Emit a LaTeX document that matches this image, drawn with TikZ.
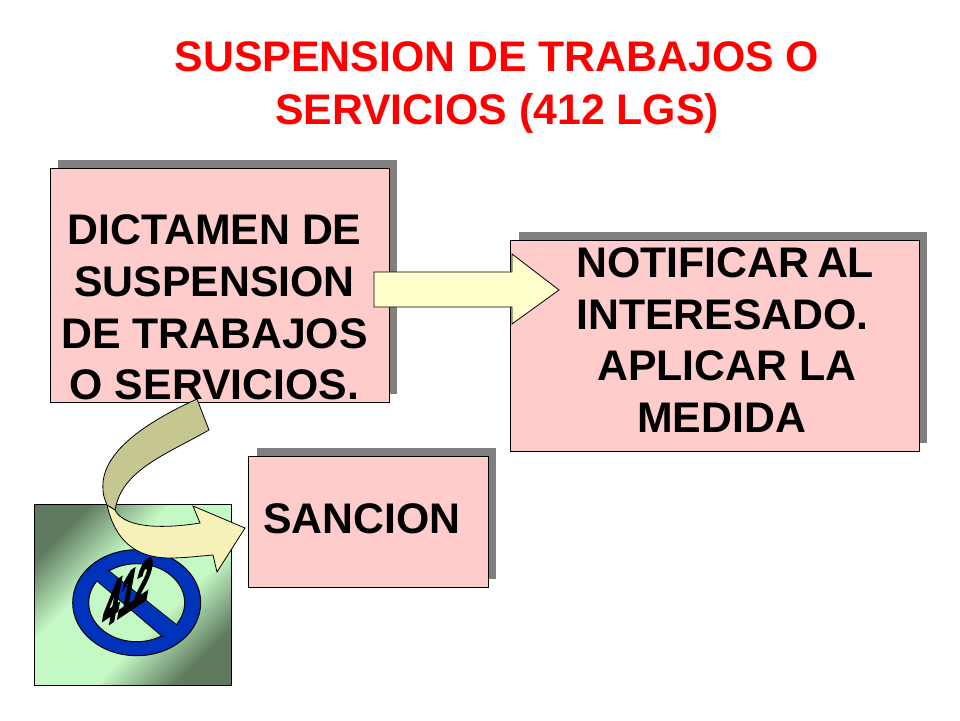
\documentclass[tikz,border=0pt]{standalone}
\usepackage{fontspec}
\setmainfont{Liberation Sans}
\newfontfamily\heavydigits[FakeBold=6]{Liberation Sans Bold}
\usetikzlibrary{shadings}
\definecolor{boxpink}{HTML}{FFCCCC}
\definecolor{shadowgray}{HTML}{808080}
\definecolor{creamy}{HTML}{FFFFCC}
\definecolor{creamb}{HTML}{F7F2B8}
\definecolor{olive}{HTML}{C6C690}
\definecolor{ringblue}{HTML}{0033BB}
\definecolor{titlered}{HTML}{FF0000}
\definecolor{gdark}{HTML}{5F7A5F}
\definecolor{glight}{HTML}{C4F8C4}
\pgfdeclareverticalshading{squareglow}{100bp}{
  color(0bp)=(gdark);
  color(25bp)=(gdark);
  color(40bp)=(glight);
  color(60bp)=(glight);
  color(75bp)=(gdark);
  color(100bp)=(gdark)}
\tikzset{
  x=1pt,y=-1pt,
  pinkbox/.style={draw=black,line width=1pt,fill=boxpink},
  bigtext/.style={font=\fontsize{42.8}{51.7}\selectfont\bfseries,inner sep=0pt,text=black},
  titletext/.style={font=\fontsize{42.8}{52.5}\selectfont\bfseries,inner sep=0pt,text=titlered,align=center},
  blockarrow/.style={draw=black,line width=0.8pt,line join=miter},
}
\begin{document}
\begin{tikzpicture}
\useasboundingbox (0,0) rectangle (960,720);
\fill[white] (0,0) rectangle (960,720);
\node[titletext,anchor=base] (title) at (497,124.2) {SUSPENSION DE TRABAJOS O\\SERVICIOS (412 LGS)};
% shadows and boxes
\fill[shadowgray] (58,160) rectangle (397,394);
\fill[shadowgray] (518.5,232) rectangle (927,443);
\fill[shadowgray] (256.5,448) rectangle (496,579);
\draw[pinkbox] (50,168) rectangle (389,402);
\draw[pinkbox] (510.5,240) rectangle (919,451);
\draw[pinkbox] (248.5,456) rectangle (488,587);
\node[bigtext,align=center,anchor=base] (dictamen) at (214.5,399.8) {DICTAMEN DE\\SUSPENSION\\DE TRABAJOS\\O SERVICIOS.};
\node[bigtext,align=left,anchor=base west] (notificar) at (576,432.4) {NOTIFICAR\hspace{-4pt} AL\\INTERESADO.\\\hspace*{21pt}APLICAR LA\\\hspace*{61pt}MEDIDA};
\node[bigtext,anchor=base] (sancion) at (362,533.3) {SANCION};
% prohibition square
\shade[draw=black,line width=1pt,shading=squareglow,shading angle=45] (34,504) rectangle (231,685);
\draw[black,line width=1pt,fill=ringblue,even odd rule]
  (136.7,602.7) ellipse [x radius=64,y radius=53]
  (136.7,602.7) ellipse [x radius=48,y radius=39];
\fill[ringblue] (100,564) -- (184,631) -- (170,643) -- (90,575) -- cycle;
\draw[black,line width=0.8pt] (108,570) -- (177,625) (97,581) -- (163,637);
\node[font=\fontsize{46}{46}\selectfont\heavydigits,inner sep=0pt,text=black,transform shape,
  cm={0.6,0.4,0.25,1.35,(128,592)}] (num) at (0,0) {412};
% straight arrow
\draw[blockarrow,fill=creamy] (374,272) -- (512,272) -- (512,254) -- (559,290) -- (512,324) -- (512,307) -- (374,307) -- cycle;
% curved arrow
\draw[blockarrow,fill=olive] (197,399) .. controls (140,425) and (100,455) .. (103,490) .. controls (103,495) and (105,500) .. (107,505)
  -- (115,510) .. controls (122,470) and (165,455) .. (209,430) -- cycle;
\draw[blockarrow,fill=creamb] (107,505) .. controls (115,540) and (135,558) .. (170,558) .. controls (185,558) and (200,556) .. (213,555)
  -- (217,572) -- (245,528) -- (193,506) -- (200,523) .. controls (170,528) and (125,530) .. (115,510) -- cycle;
\end{tikzpicture}
\end{document}
